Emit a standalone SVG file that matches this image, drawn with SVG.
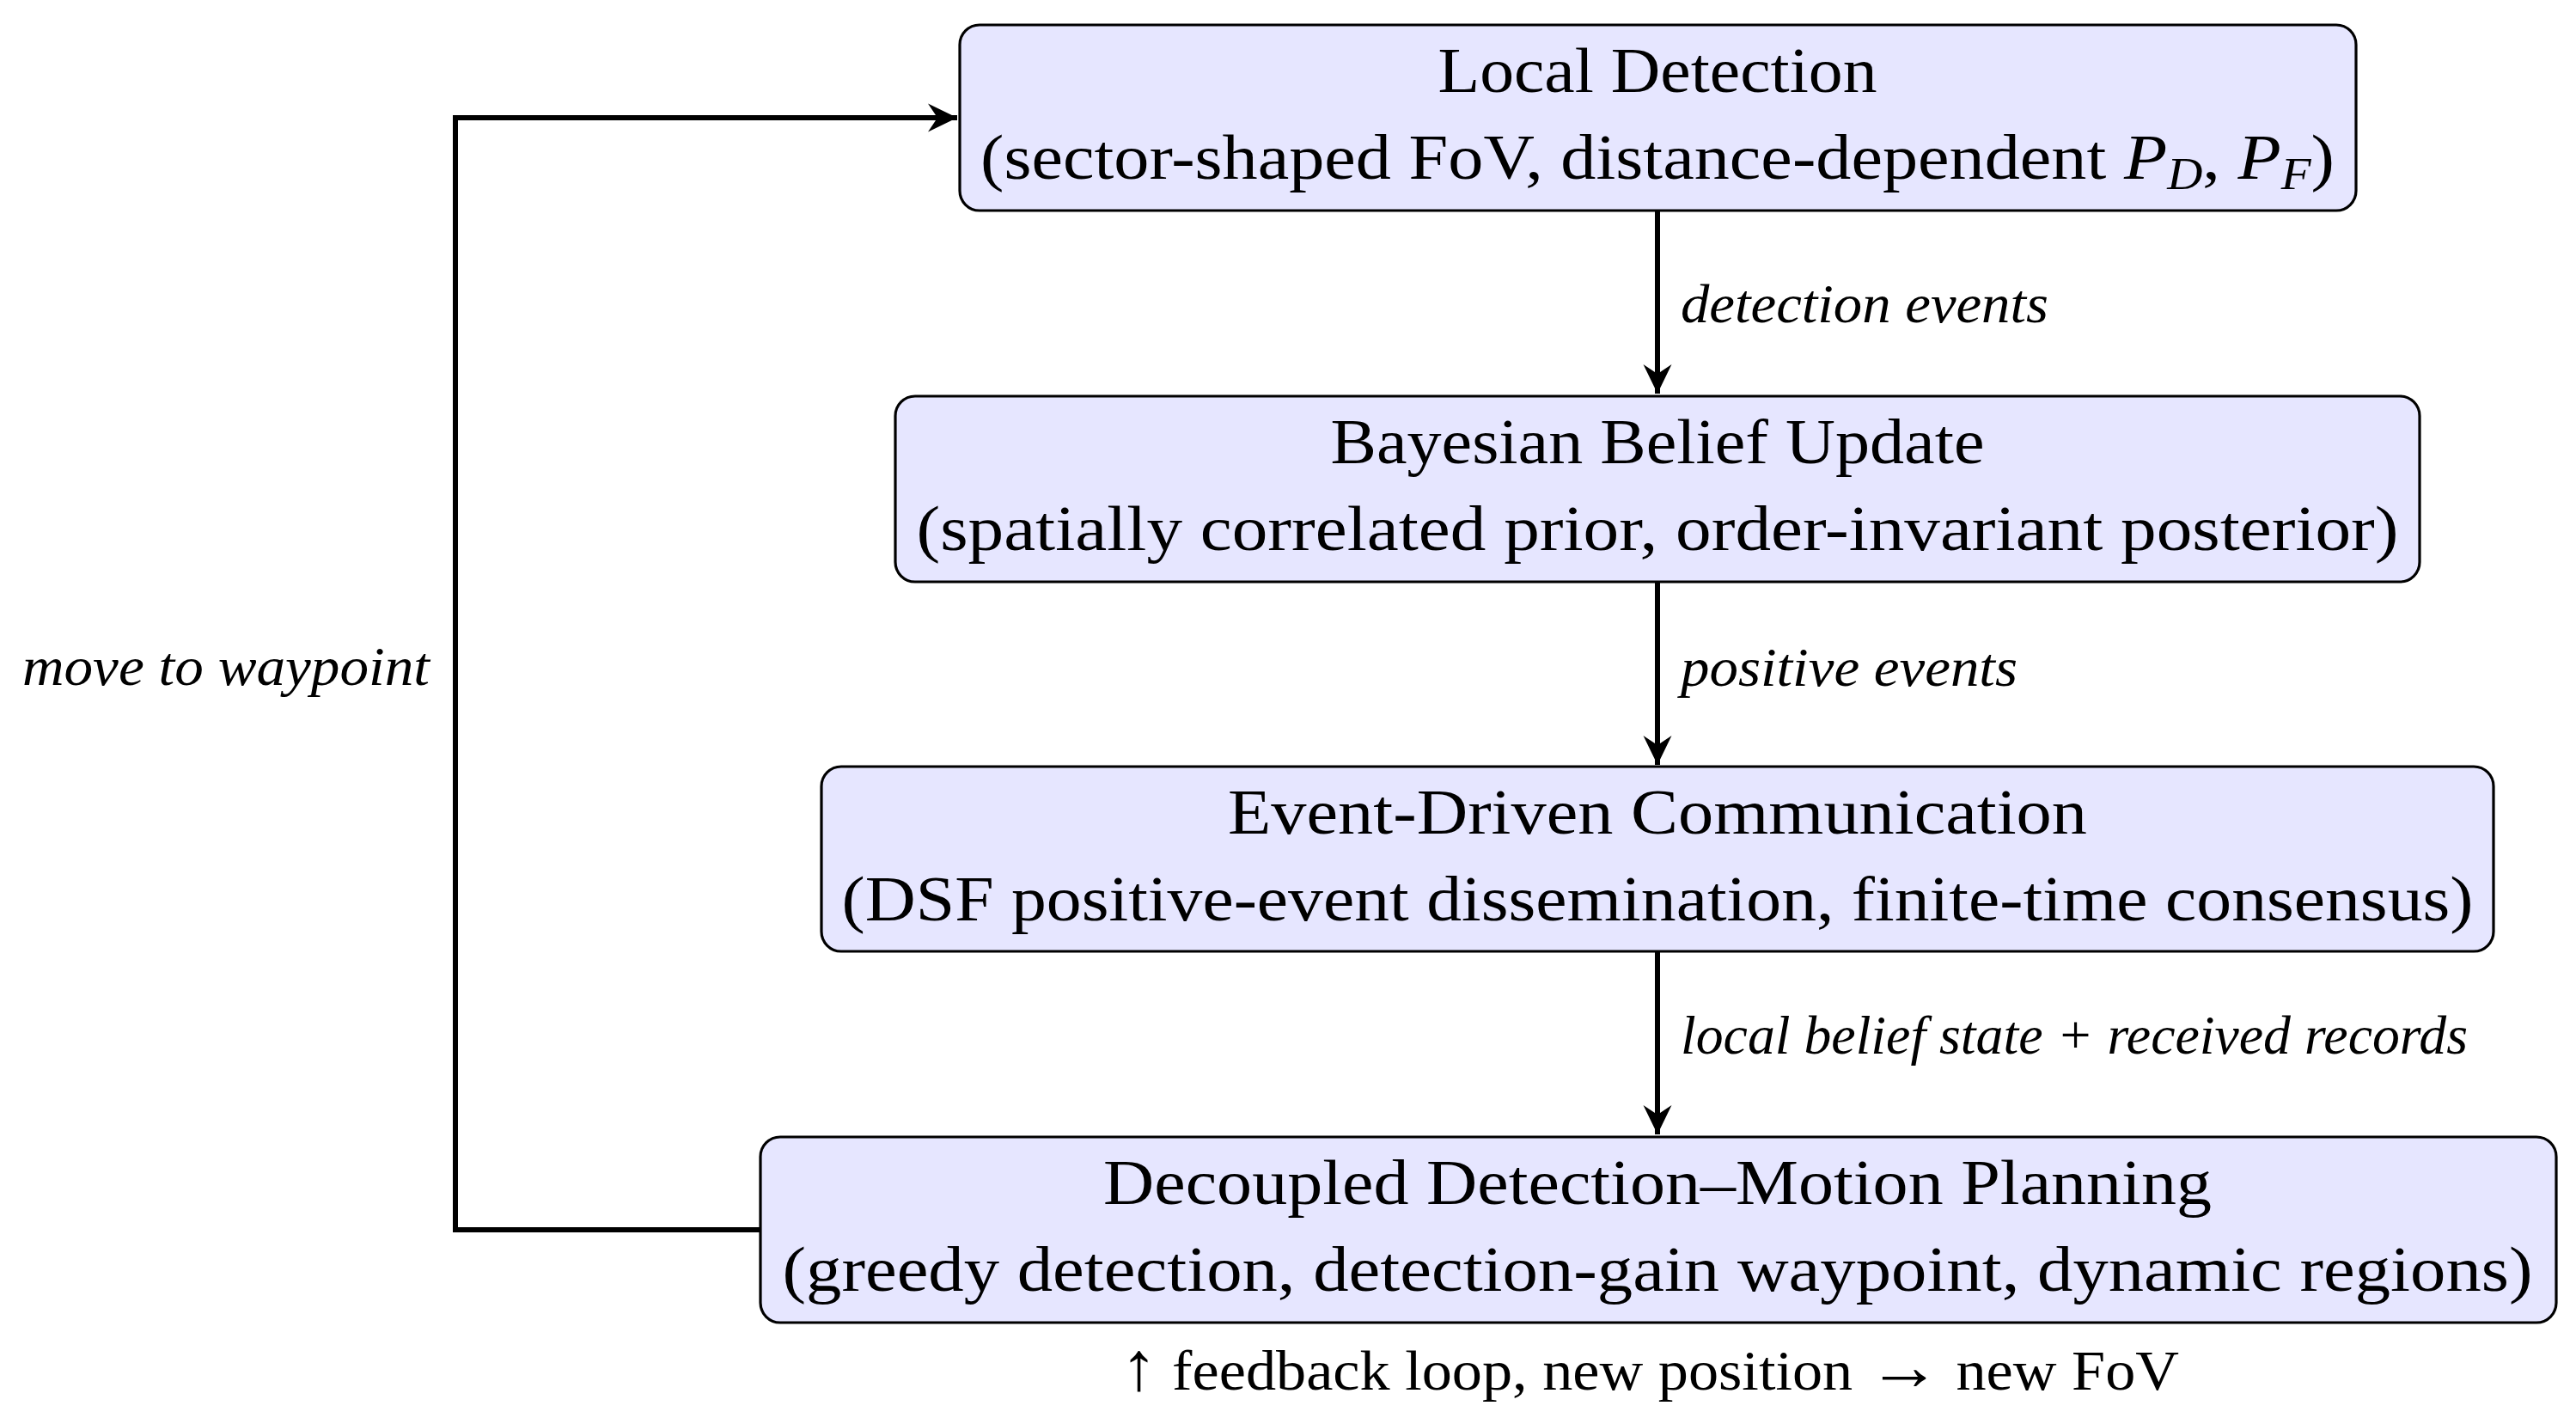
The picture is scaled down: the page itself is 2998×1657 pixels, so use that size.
<svg xmlns="http://www.w3.org/2000/svg" width="2998" height="1657" viewBox="0 0 2998 1657">
<defs>
<style>
.box{fill:#E6E6FF;stroke:#000;stroke-width:3.2}
.t{font-family:"Liberation Serif","Times New Roman",serif;font-size:75px;fill:#000;text-anchor:middle}
.lbl{font-family:"Liberation Serif","Times New Roman",serif;font-style:italic;font-size:64px;fill:#000}
.bt{font-family:"Liberation Serif","Times New Roman",serif;font-size:66px;fill:#000}
.edge{fill:none;stroke:#000;stroke-width:6}
</style>
<marker id="arr" viewBox="-34 -17 36 34" refX="0" refY="0" markerUnits="userSpaceOnUse" markerWidth="36" markerHeight="34" orient="auto">
<path d="M0,0 L-34,-16.5 L-23,0 L-34,16.5 Z" fill="#000"/>
</marker>
</defs>
<rect width="2998" height="1657" fill="#fff"/>
<g id="connectors">
<line class="edge" x1="1929" y1="246" x2="1929" y2="458" marker-end="url(#arr)"/>
<line class="edge" x1="1929" y1="678" x2="1929" y2="890" marker-end="url(#arr)"/>
<line class="edge" x1="1929" y1="1108" x2="1929" y2="1320" marker-end="url(#arr)"/>
<polyline class="edge" points="885,1431 530,1431 530,137 1114,137" marker-end="url(#arr)"/>
<text class="lbl" x="1956" y="375" textLength="428" lengthAdjust="spacingAndGlyphs">detection events</text>
<text class="lbl" x="1956" y="798" textLength="392" lengthAdjust="spacingAndGlyphs">positive events</text>
<text class="lbl" x="1956" y="1226" textLength="916" lengthAdjust="spacingAndGlyphs">local belief state + received records</text>
<text class="lbl" x="26" y="797" textLength="474" lengthAdjust="spacingAndGlyphs">move to waypoint</text>
</g>
<g id="node-local-detection">
<rect class="box" x="1117" y="29" width="1625" height="216" rx="23" ry="23"/>
<text class="t" x="1929" y="107" textLength="511" lengthAdjust="spacingAndGlyphs">Local Detection</text>
<text class="t" x="1929" y="208" textLength="1576" lengthAdjust="spacingAndGlyphs">(sector-shaped FoV, distance-dependent <tspan font-style="italic">P</tspan><tspan font-style="italic" font-size="52" dy="12">D</tspan><tspan dy="-12">, </tspan><tspan font-style="italic">P</tspan><tspan font-style="italic" font-size="52" dy="12">F</tspan><tspan dy="-12">)</tspan></text>
</g>
<g id="node-bayesian-belief-update">
<rect class="box" x="1042" y="461" width="1774" height="216" rx="23" ry="23"/>
<text class="t" x="1929" y="539" textLength="761" lengthAdjust="spacingAndGlyphs">Bayesian Belief Update</text>
<text class="t" x="1929" y="640" textLength="1725" lengthAdjust="spacingAndGlyphs">(spatially correlated prior, order-invariant posterior)</text>
</g>
<g id="node-event-driven-communication">
<rect class="box" x="956" y="892" width="1946" height="215" rx="23" ry="23"/>
<text class="t" x="1929" y="970" textLength="1000" lengthAdjust="spacingAndGlyphs">Event-Driven Communication</text>
<text class="t" x="1929" y="1071" textLength="1899" lengthAdjust="spacingAndGlyphs">(DSF positive-event dissemination, finite-time consensus)</text>
</g>
<g id="node-decoupled-planning">
<rect class="box" x="885" y="1323" width="2090" height="216" rx="23" ry="23"/>
<text class="t" x="1929" y="1401" textLength="1290" lengthAdjust="spacingAndGlyphs">Decoupled Detection–Motion Planning</text>
<text class="t" x="1929" y="1502" textLength="2037" lengthAdjust="spacingAndGlyphs">(greedy detection, detection-gain waypoint, dynamic regions)</text>
</g>
<text class="bt" x="1304" y="1617" textLength="1232" lengthAdjust="spacingAndGlyphs"><tspan font-size="80">↑</tspan> feedback loop, new position <tspan font-size="80">→</tspan> new FoV</text>
</svg>
